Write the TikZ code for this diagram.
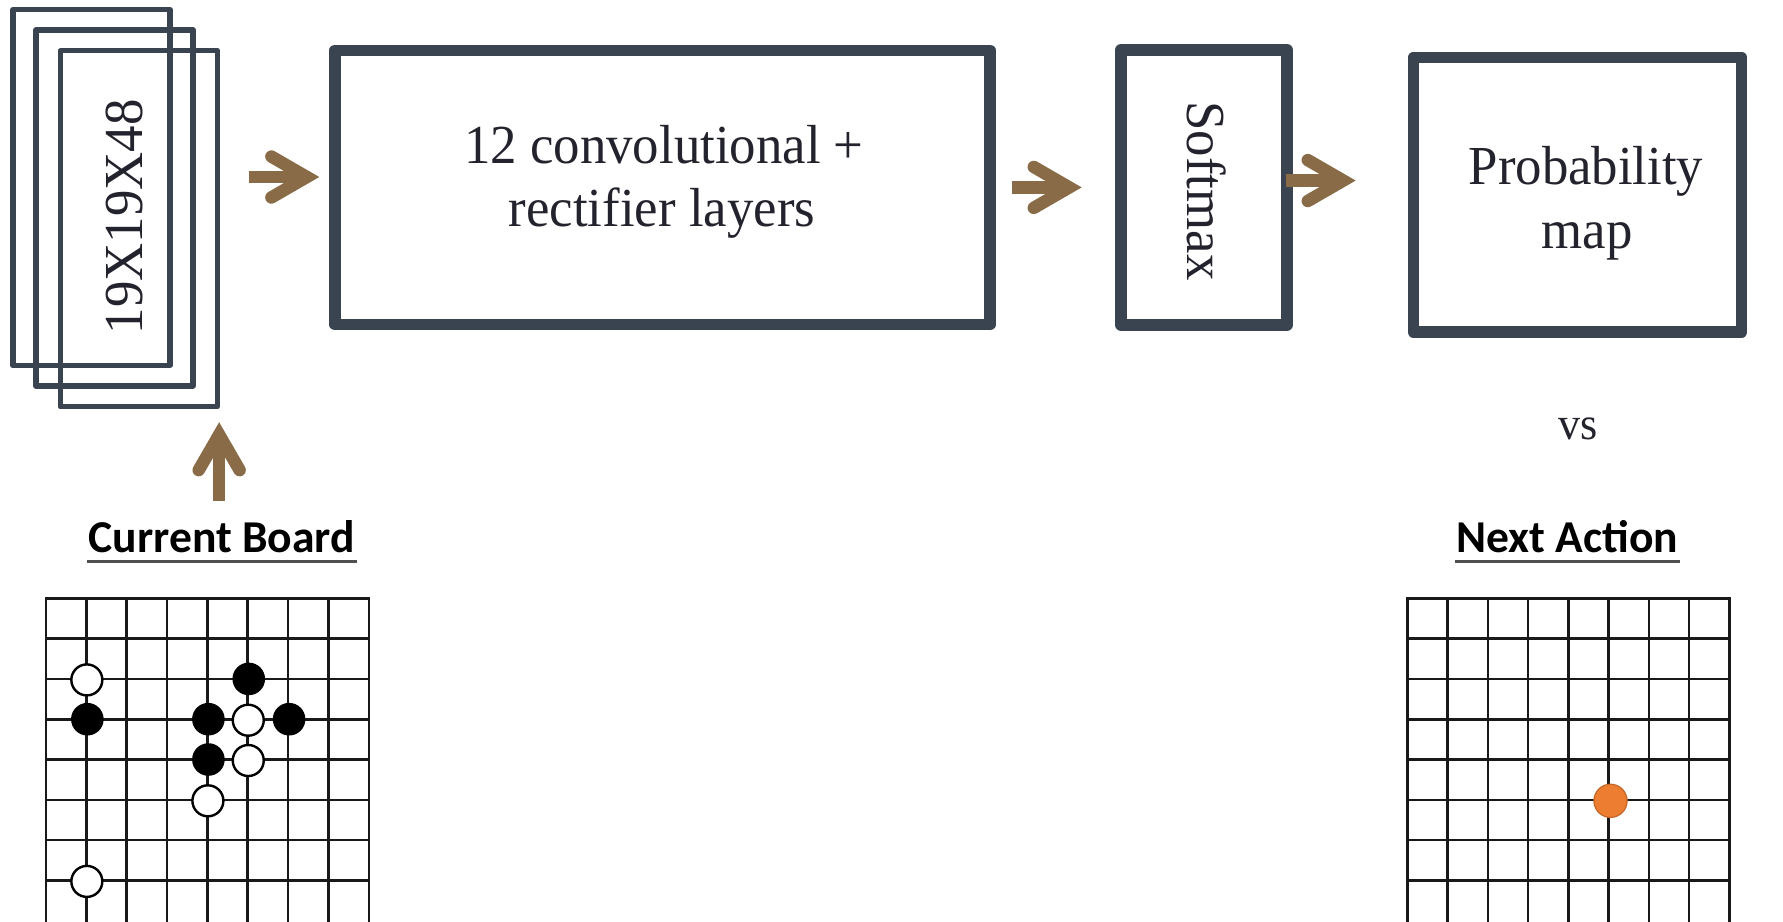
\documentclass[tikz,border=0pt]{standalone}
\usepackage{fontspec}
\setmainfont{Liberation Serif}[FakeStretch=0.96]
\newfontfamily\labelfont{Carlito}
\usetikzlibrary{calc}

\definecolor{boxc}{RGB}{58,68,81}
\definecolor{inkc}{RGB}{35,35,45}
\definecolor{arrowc}{RGB}{137,108,71}
\definecolor{movec}{RGB}{237,125,49}
\definecolor{moveedge}{RGB}{196,102,38}
\definecolor{rulec}{RGB}{80,80,80}

% Open chevron head with rounded arm ends and a sharp (mitred) point
\pgfdeclarearrow{
  name = Chev,
  setup code = {
    \pgfarrowssettipend{0pt}
    \pgfarrowssetlineend{-13pt}
    \pgfarrowssetbackend{-54pt}
    \pgfarrowshullpoint{0pt}{0pt}
    \pgfarrowsupperhullpoint{-54pt}{27pt}
  },
  drawing code = {
    \pgfsetdash{}{0pt}
    \pgfsetlinewidth{12.5pt}
    \pgfsetroundcap
    \pgfsetmiterjoin
    \pgfpathmoveto{\pgfqpoint{-47.9pt}{20.45pt}}
    \pgfpathlineto{\pgfqpoint{-12.5pt}{0pt}}
    \pgfpathlineto{\pgfqpoint{-47.9pt}{-20.45pt}}
    \pgfusepathqstroke
  }
}

\begin{document}
\begin{tikzpicture}[x=1pt,y=-1pt,
  plane/.style={draw=boxc, line width=5.3pt, line join=round,
    minimum width=157pt, minimum height=356pt, inner sep=0pt, outer sep=0pt},
  stage/.style={draw=boxc, line width=11.8pt, line join=round,
    inner sep=0pt, outer sep=0pt},
  bigtext/.style={text=inkc, inner sep=0pt, font=\fontsize{55}{63}\selectfont},
  smalltext/.style={text=inkc, inner sep=0pt, font=\fontsize{46}{52}\selectfont},
  caption/.style={text=black, inner sep=0pt, font=\labelfont\bfseries\fontsize{45.6}{50}\selectfont},
  uline/.style={draw=rulec, line width=3pt},
  flow/.style={draw=arrowc, line width=12.5pt, -Chev},
  gridline/.style={draw=black!90, line width=2.6pt, line cap=rect},
  blackstone/.style={fill=black},
  whitestone/.style={fill=white, draw=black, line width=2.4pt},
  movestone/.style={fill=movec, draw=moveedge, line width=1.2pt}
]
\useasboundingbox (0,0) rectangle (1783,921);

% input feature planes
\node[plane] (f1) at (91.4,187.6) {};
\node[plane] (f2) at (114.4,207.9) {};
\node[plane] (f3) at (138.75,228.8) {};
\node[bigtext, rotate=90] (dims) at (124.4,216.7) {19X19X48};

% network stages
\node[stage, minimum width=655pt, minimum height=274pt] (conv) at (662.5,187.5) {};
\node[bigtext, anchor=base] (convA) at (664,163.5) {12 convolutional +};
\node[bigtext, anchor=base] (convB) at (662,226.7) {rectifier layers};

\node[stage, minimum width=166pt, minimum height=274.7pt] (soft) at (1204,187.4) {};
\node[bigtext, rotate=-90] (softtxt) at (1206.5,191) {Softmax};

\node[stage, minimum width=328pt, minimum height=274.5pt] (prob) at (1577.5,194.75) {};
\node[bigtext, anchor=base] (probA) at (1586,184) {Probability};
\node[bigtext, anchor=base] (probB) at (1587,248.3) {map};

\node[smalltext, anchor=base] (vs) at (1578,439.3) {vs};

% arrows between the stages
\draw[flow] ($(conv.west)+(-85.7,-10.5)$) -- ($(conv.west)+(-15.7,-10.5)$);
\draw[flow] ($(soft.west)+(-109.3,0)$) -- ($(soft.west)+(-39.3,0)$);
\draw[flow] ($(prob.west)+(-127.8,-14.2)$) -- ($(prob.west)+(-57.8,-14.2)$);
\draw[flow] ($(f3.south)+(80.4,94.4)$) -- ($(f3.south)+(80.4,15.4)$);

% board captions
\node[caption, anchor=base] (cb) at (221.8,552.7) {Current Board};
\draw[uline] ($(cb.base west)+(-1,9)$) -- ($(cb.base east)+(2,9)$);
\node[caption, anchor=base] (na) at (1567.5,552.7) {Next Action};
\draw[uline] ($(na.base west)+(-1.5,9)$) -- ($(na.base east)+(1.5,9)$);

% current board
\foreach \i in {0,...,8}
  \draw[gridline] (46+\i*40.35,598.3) -- (46+\i*40.35,930);
\foreach \j in {0,...,7}
  \draw[gridline] (46,598.3+\j*40.3) -- (368.8,598.3+\j*40.3);
\foreach \c/\r in {1/3,5/2,4/3,6/3,4/4}
  \fill[blackstone] (46+\c*40.35+1,598.3+\r*40.3) circle[radius=16.3];
\foreach \c/\r in {1/2,5/3,5/4,4/5,1/7}
  \filldraw[whitestone] (46+\c*40.35+0.5,598.3+\r*40.3+1) circle[radius=15.5];

% next action board
\foreach \i in {0,...,8}
  \draw[gridline] (1407.3+\i*40.25,598.3) -- (1407.3+\i*40.25,930);
\foreach \j in {0,...,7}
  \draw[gridline] (1407.3,598.3+\j*40.3) -- (1729.3,598.3+\j*40.3);
\filldraw[movestone] (1610.5,800.8) circle[radius=16.6];
\end{tikzpicture}
\end{document}
